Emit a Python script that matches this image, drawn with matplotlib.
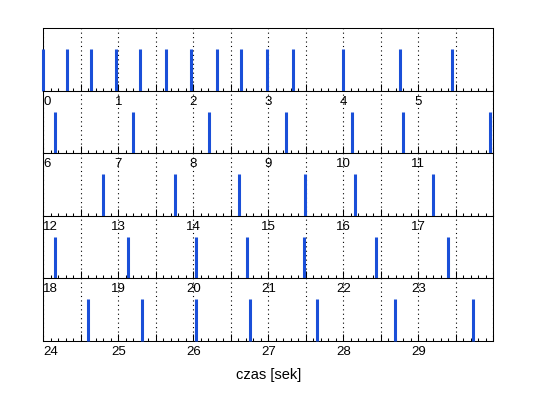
import numpy as np
import matplotlib
matplotlib.use('Agg')
import matplotlib.pyplot as plt
from matplotlib.ticker import MultipleLocator

plt.rcParams['font.family'] = ['Liberation Sans', 'DejaVu Sans']

# czasy impulsow [s]
spike_t = [0.0, 0.32, 0.64, 0.97, 1.29, 1.64, 1.97, 2.31, 2.63, 2.98, 3.33, 3.99, 4.76, 5.45,
           6.15, 7.19, 8.21, 9.24, 10.12, 10.80, 11.96,
           12.79, 13.75, 14.61, 15.49, 16.15, 17.20,
           18.15, 19.13, 20.04, 20.72, 21.48, 22.44, 23.40,
           24.60, 25.32, 26.03, 26.75, 27.65, 28.69, 29.73]
spike_h = [1.0] * len(spike_t)
row_start = [0, 6, 12, 18, 24]
row_len = 6
xlabel = 'czas [sek]'

W, H = 538, 398
fig = plt.figure(figsize=(W / 100, H / 100), dpi=100)

left, right = 43.3 / W, 493.3 / W
top_px, bot_px = 28.3, 341.0
row_h = (bot_px - top_px) / len(row_start)

t = np.array(spike_t)
h = np.array(spike_h)

for i, t0 in enumerate(row_start):
    y_top = top_px + i * row_h
    ax = fig.add_axes([left, 1 - (y_top + row_h) / H, right - left, row_h / H])
    ax.patch.set_visible(False)  # zeby etykiety z wiersza wyzej byly widoczne
    m = (t >= t0) & (t < t0 + row_len)
    ax.vlines(t[m], 0, h[m], color='#1a4fd8', lw=2.2, clip_on=False, zorder=3)
    ax.set_xlim(t0, t0 + row_len)
    ax.set_ylim(0, 1.5)
    ax.set_yticks([])

    major = np.arange(t0, t0 + row_len + 0.01, 0.5)
    ax.set_xticks(major)
    ax.set_xticklabels([str(int(v)) if (v == int(v) and v < t0 + row_len) else '' for v in major])
    ax.xaxis.set_minor_locator(MultipleLocator(0.1))
    ax.tick_params(axis='x', which='major', direction='in', length=5, width=0.75,
                   pad=3.5, labelsize=9.5)
    ax.tick_params(axis='x', which='minor', direction='in', length=2.5, width=0.75)
    ax.xaxis.grid(True, which='major', color='black', linestyle=(0, (1, 3)), lw=0.8)
    ax.xaxis.get_majorticklabels()[0].set_horizontalalignment('left')
    for s in ax.spines.values():
        s.set_linewidth(0.75)

fig.text((left + right) / 2, 1 - 375 / H, xlabel, ha='center', va='center', fontsize=10.5)

fig.savefig('out.png', dpi=100)
